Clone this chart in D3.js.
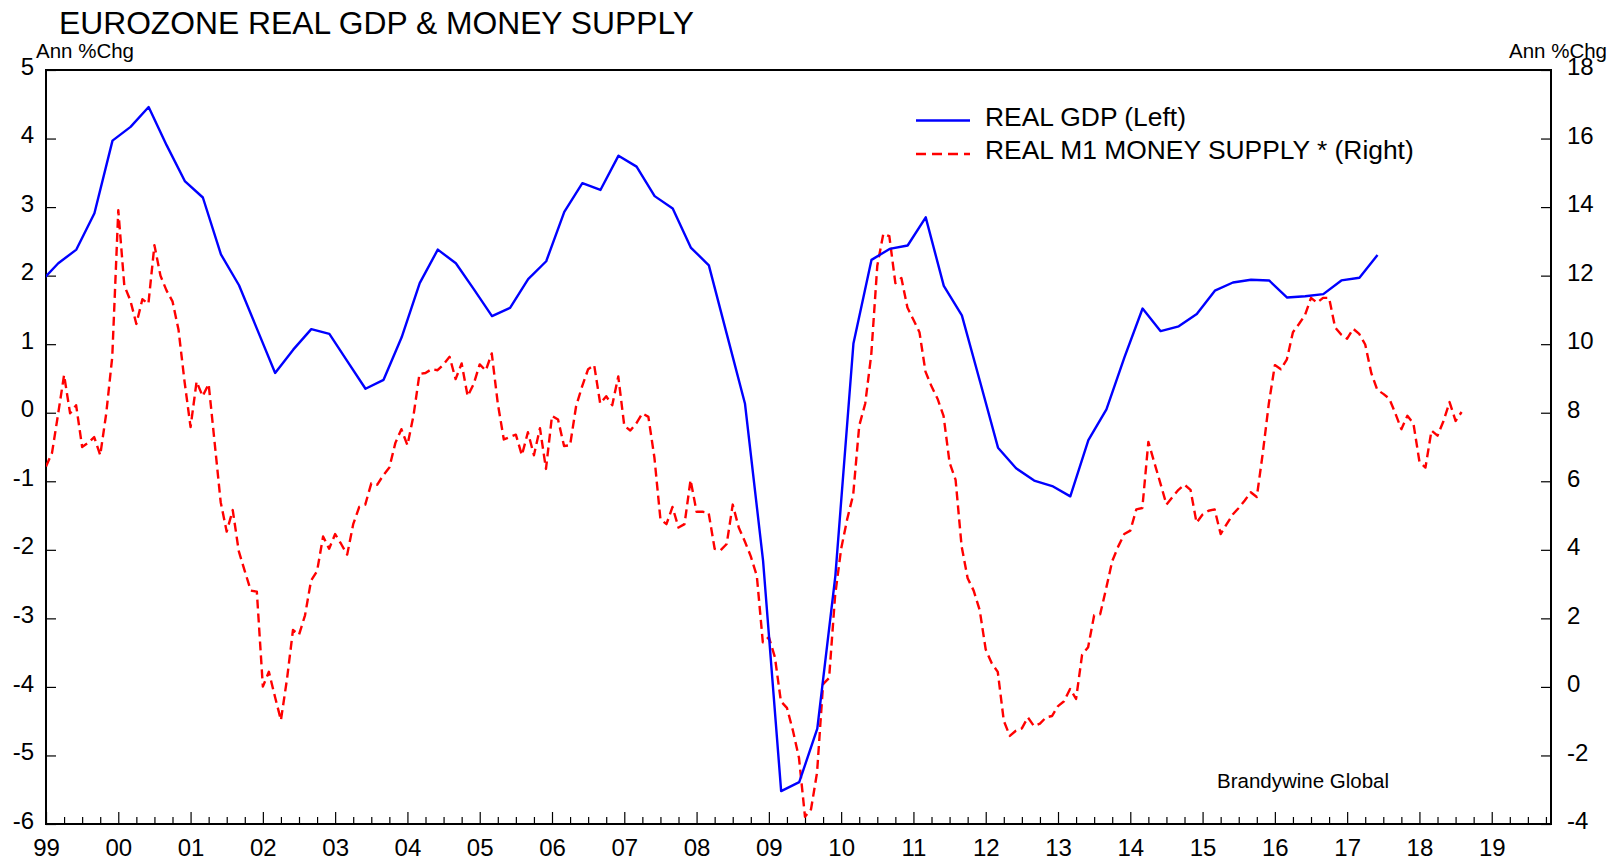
<!DOCTYPE html>
<html>
<head>
<meta charset="utf-8">
<script src="https://cdn.jsdelivr.net/npm/d3@7"></script>
<style>
  html, body { margin: 0; padding: 0; background: #fff; }
  svg { display: block; font-family: "Liberation Sans", Arial, sans-serif; }
</style>
</head>
<body>
<svg id="chart" width="1617" height="867"></svg>
<script>
// ---------------- DATA ----------------
const chartTitle = "EUROZONE REAL GDP & MONEY SUPPLY";
const leftUnit = "Ann %Chg";
const rightUnit = "Ann %Chg";
const sourceNote = "Brandywine Global";
const seriesNames = ["REAL GDP (Left)", "REAL M1 MONEY SUPPLY * (Right)"];

// x-axis year labels (1999 .. 2019)
const yearLabels = ["99","00","01","02","03","04","05","06","07","08","09",
                    "10","11","12","13","14","15","16","17","18","19"];
const firstYear = 1999;

const leftTicks = [5, 4, 3, 2, 1, 0, -1, -2, -3, -4, -5, -6];
const rightTicks = [18, 16, 14, 12, 10, 8, 6, 4, 2, 0, -2, -4];

// Real GDP, quarterly, starting 1998 Q4 (annual % change)
const gdpStart = { year: 1998, quarter: 4 };
const gdpValues = [
  1.90,
  2.18, 2.38, 2.91, 3.97,
  4.17, 4.46, 3.90, 3.38,
  3.14, 2.31, 1.86, 1.22,
  0.58, 0.92, 1.22, 1.15,
  0.75, 0.35, 0.48, 1.10,
  1.89, 2.38, 2.18, 1.80,
  1.41, 1.53, 1.95, 2.21,
  2.93, 3.35, 3.25, 3.75,
  3.59, 3.16, 2.98, 2.41,
  2.15, 1.14, 0.13, -2.16,
  -5.52, -5.39, -4.61, -2.38,
  1.01, 2.23, 2.39, 2.44,
  2.85, 1.85, 1.42, 0.46,
  -0.51, -0.81, -0.99, -1.07,
  -1.22, -0.40, 0.05, 0.81,
  1.52, 1.19, 1.26, 1.44,
  1.78, 1.90, 1.94, 1.93,
  1.68, 1.70, 1.73, 1.93,
  1.97, 2.30
];

// Real M1 money supply, monthly, starting Jan 1999 (annual % change)
const m1Start = { year: 1999, month: 1 };
const m1Values = [
  6.43, 6.83, 7.95, 9.10, 7.98, 8.22, 7.00, 7.12, 7.29, 6.76, 7.98, 9.63,
  13.91, 11.71, 11.28, 10.59, 11.31, 11.18, 12.89, 12.00, 11.57, 11.25, 10.42, 8.91,
  7.58, 8.91, 8.48, 8.84, 7.12, 5.39, 4.53, 5.16, 3.96, 3.38, 2.81, 2.78,
  0.01, 0.44, -0.28, -0.97, 0.22, 1.66, 1.52, 2.09, 3.10, 3.38, 4.39, 4.03,
  4.46, 4.17, 3.86, 4.75, 5.25, 5.32, 5.94, 5.90, 6.18, 6.40, 7.12, 7.52,
  7.05, 7.91, 9.13, 9.16, 9.27, 9.24, 9.41, 9.63, 8.98, 9.44, 8.48, 8.84,
  9.41, 9.23, 9.73, 8.27, 7.22, 7.29, 7.36, 6.76, 7.43, 6.76, 7.55, 6.36,
  7.91, 7.80, 7.03, 7.05, 8.19, 8.77, 9.27, 9.39, 8.27, 8.48, 8.22, 9.06,
  7.62, 7.48, 7.69, 7.98, 7.88, 6.69, 4.89, 4.75, 5.25, 4.65, 4.75, 6.04,
  5.11, 5.11, 5.08, 4.03, 3.99, 4.17, 5.32, 4.65, 4.25, 3.81, 3.24, 1.30,
  1.45, 0.87, -0.42, -0.61, -1.28, -2.07, -3.79, -3.57, -2.50, 0.08, 0.26, 2.67,
  4.03, 4.89, 5.61, 7.62, 8.27, 9.70, 12.29, 13.22, 13.15, 11.78, 11.93, 11.07,
  10.71, 10.35, 9.20, 8.77, 8.41, 7.91, 6.54, 6.04, 4.10, 3.17, 2.81, 2.24,
  1.09, 0.69, 0.44, -0.99, -1.43, -1.28, -1.21, -0.89, -1.14, -1.07, -0.89, -0.85,
  -0.56, -0.42, -0.06, -0.35, 0.94, 1.16, 2.09, 2.12, 2.88, 3.67, 4.10, 4.46,
  4.56, 5.18, 5.22, 7.15, 6.54, 5.94, 5.32, 5.54, 5.75, 5.90, 5.75, 4.79,
  5.03, 5.14, 5.18, 4.46, 4.75, 5.03, 5.22, 5.44, 5.68, 5.54, 6.83, 8.27,
  9.39, 9.27, 9.56, 10.35, 10.59, 10.85, 11.35, 11.21, 11.35, 11.35, 10.49, 10.28,
  10.16, 10.45, 10.30, 9.99, 9.16, 8.67, 8.55, 8.41, 7.98, 7.52, 7.91, 7.69,
  6.57, 6.40, 7.48, 7.33, 7.76, 8.31, 7.76, 8.02
];

// ---------------- LAYOUT ----------------
const W = 1617, H = 867;
const plot = { left: 46, right: 1551, top: 70, bottom: 824 };
const fontFam = '"Liberation Sans", Arial, sans-serif';
const blue = "#0000ff", red = "#ff0000";

const svg = d3.select("#chart");

// time in decimal years
const gdpData = gdpValues.map((v, i) => ({
  t: gdpStart.year + (gdpStart.quarter - 1) * 0.25 + i * 0.25 + 0.17,
  v
}));
const m1Data = m1Values.map((v, i) => ({
  t: m1Start.year + (m1Start.month - 1) / 12 + i / 12,
  v
}));

const x = d3.scaleLinear().domain([firstYear, 2019.82]).range([plot.left, plot.right]);
const yL = d3.scaleLinear().domain([-6, 5]).range([plot.bottom, plot.top]);
const yR = d3.scaleLinear().domain([-4, 18]).range([plot.bottom, plot.top]);

// clip
svg.append("defs").append("clipPath").attr("id", "clip")
  .append("rect")
  .attr("x", plot.left).attr("y", plot.top)
  .attr("width", plot.right - plot.left).attr("height", plot.bottom - plot.top);

// Title
svg.append("text")
  .attr("x", 59).attr("y", 34)
  .attr("font-size", 31.8)
  .attr("fill", "#000")
  .text(chartTitle);

// Unit labels
svg.append("text").attr("x", 36).attr("y", 58).attr("font-size", 20.5).text(leftUnit);
svg.append("text").attr("x", 1607).attr("y", 58).attr("font-size", 20.5)
  .attr("text-anchor", "end").text(rightUnit);

const plainFmt = d => String(d);

// Left axis
const axL = d3.axisLeft(yL).tickValues(leftTicks).tickSize(-10).tickPadding(12)
  .tickFormat(plainFmt);
const gL = svg.append("g").attr("transform", `translate(${plot.left},0)`).call(axL);
gL.select(".domain").remove();
gL.selectAll("line").attr("stroke", "#000").attr("stroke-width", 1.2);
gL.selectAll("text").attr("font-size", 24).attr("font-family", fontFam)
  .attr("fill", "#000").attr("dy", "0.17em");

// Right axis
const axR = d3.axisRight(yR).tickValues(rightTicks).tickSize(-10).tickPadding(16)
  .tickFormat(plainFmt);
const gR = svg.append("g").attr("transform", `translate(${plot.right},0)`).call(axR);
gR.select(".domain").remove();
gR.selectAll("line").attr("stroke", "#000").attr("stroke-width", 1.2);
gR.selectAll("text").attr("font-size", 24).attr("font-family", fontFam)
  .attr("fill", "#000").attr("dy", "0.2em");

// Bottom axis: major (years) with labels
const yearTicks = yearLabels.map((d, i) => firstYear + i);
const axB = d3.axisBottom(x).tickValues(yearTicks).tickSize(-12).tickPadding(15)
  .tickFormat((d, i) => yearLabels[i]);
const gB = svg.append("g").attr("transform", `translate(0,${plot.bottom})`).call(axB);
gB.select(".domain").remove();
gB.selectAll("line").attr("stroke", "#000").attr("stroke-width", 1.2);
gB.selectAll("text").attr("font-size", 24).attr("font-family", fontFam).attr("fill", "#000");

// minor quarterly ticks
const minorTicks = [];
for (let yv = firstYear; yv < 2019.82; yv += 0.25) {
  if (Math.abs(yv - Math.round(yv)) > 1e-6) minorTicks.push(yv);
}
const axBm = d3.axisBottom(x).tickValues(minorTicks).tickSize(-7).tickFormat("");
const gBm = svg.append("g").attr("transform", `translate(0,${plot.bottom})`).call(axBm);
gBm.select(".domain").remove();
gBm.selectAll("line").attr("stroke", "#000").attr("stroke-width", 1.2);

// Frame
svg.append("rect")
  .attr("x", plot.left).attr("y", plot.top)
  .attr("width", plot.right - plot.left).attr("height", plot.bottom - plot.top)
  .attr("fill", "none").attr("stroke", "#000").attr("stroke-width", 2);

// Lines
const lineGdp = d3.line().x(d => x(d.t)).y(d => yL(d.v));
const lineM1 = d3.line().x(d => x(d.t)).y(d => yR(d.v));

const gLines = svg.append("g").attr("clip-path", "url(#clip)");
gLines.append("path").datum(m1Data)
  .attr("d", lineM1).attr("fill", "none")
  .attr("stroke", red).attr("stroke-width", 2.4)
  .attr("stroke-dasharray", "9,5")
  .attr("stroke-linejoin", "round");
gLines.append("path").datum(gdpData)
  .attr("d", lineGdp).attr("fill", "none")
  .attr("stroke", blue).attr("stroke-width", 2.4)
  .attr("stroke-linejoin", "round");

// Legend
const legend = svg.append("g");
const legItems = [
  { name: seriesNames[0], color: blue, dash: null, y: 120.5 },
  { name: seriesNames[1], color: red, dash: "10,6", y: 154 }
];
legItems.forEach(it => {
  legend.append("line")
    .attr("x1", 916).attr("x2", 970).attr("y1", it.y).attr("y2", it.y)
    .attr("stroke", it.color).attr("stroke-width", 2.4)
    .attr("stroke-dasharray", it.dash);
  legend.append("text")
    .attr("x", 985).attr("y", it.y + 5)
    .attr("font-size", 26.4).attr("fill", "#000")
    .text(it.name);
});

// Source note
svg.append("text")
  .attr("x", 1217).attr("y", 788)
  .attr("font-size", 20.5).attr("fill", "#000")
  .text(sourceNote);
</script>
</body>
</html>
